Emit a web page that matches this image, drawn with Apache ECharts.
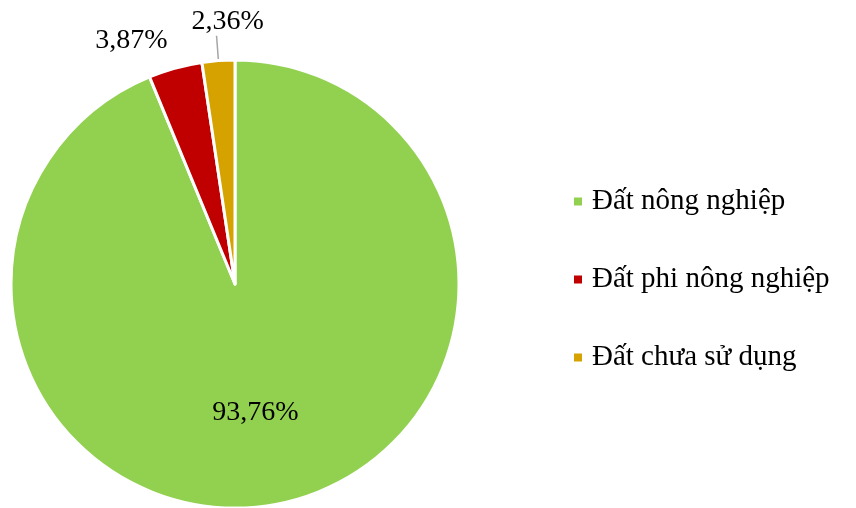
<!DOCTYPE html>
<html>
<head>
<meta charset="utf-8">
<script src="https://cdn.jsdelivr.net/npm/echarts@6/dist/echarts.min.js"></script>
<style>
  html, body { margin: 0; padding: 0; background: #fff; }
  #chart { width: 856px; height: 508px; }
</style>
</head>
<body>
<div id="chart"></div>
<script>
// land use shares (%)
const categories = ['Đất nông nghiệp', 'Đất phi nông nghiệp', 'Đất chưa sử dụng']
const shares = [93.76, 3.87, 2.36]
const colors = ['#92D050', '#C00000', '#D5A200']

const FONT = "'Liberation Serif', 'Times New Roman', serif"

// per-slice label placement (style only, not data)
const labelStyles = [
  { label: { position: 'inside' }, labelLine: { show: false } },
  { label: { position: 'outside', distanceToLabelLine: 0 }, labelLine: { show: false, length: 29, length2: 0 } },
  { label: { position: 'outside', distanceToLabelLine: -11 }, labelLine: { show: true, length: 25, length2: 0 } },
]

const chart = echarts.init(document.getElementById('chart'))

chart.setOption({
  animation: false,
  color: colors,
  legend: {
    orient: 'vertical',
    left: 572,
    top: 187,
    padding: 0,
    icon: 'rect',
    itemWidth: 10,
    itemHeight: 10,
    itemGap: 49,
    textStyle: { color: '#000', fontSize: 29, fontFamily: FONT, padding: [0, 0, 0, 4] },
    data: categories,
  },
  series: [
    {
      type: 'pie',
      center: [235, 284],
      radius: 224,
      startAngle: 90,
      clockwise: true,
      avoidLabelOverlap: false,
      itemStyle: { borderColor: '#fff', borderWidth: 3 },
      label: {
        color: '#000',
        fontSize: 28,
        fontFamily: FONT,
        formatter: p => p.value.toFixed(2).replace('.', ',') + '%',
      },
      labelLine: { lineStyle: { color: '#A6A6A6', width: 1.5 } },
      labelLayout(p) {
        if (p.dataIndex === 0) return { dx: -2, dy: 16 }
        if (p.dataIndex === 2) return { align: 'center', verticalAlign: 'bottom' }
        return {}
      },
      data: categories.map((name, i) => ({
        name,
        value: shares[i],
        label: labelStyles[i].label,
        labelLine: labelStyles[i].labelLine,
      })),
    },
  ],
})
</script>
</body>
</html>
